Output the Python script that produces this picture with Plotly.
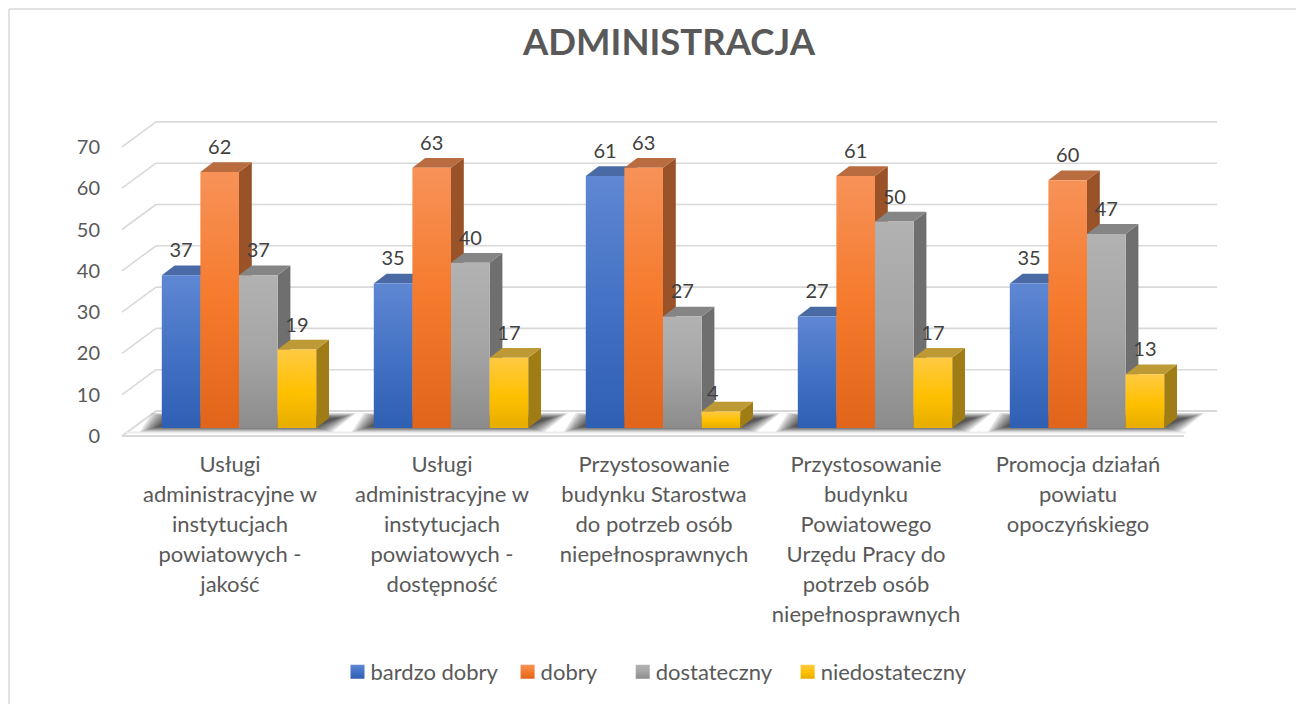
import plotly.graph_objects as go

# ---------- data ----------
categories = [
    ["Usługi", "administracyjne w", "instytucjach", "powiatowych -", "jakość"],
    ["Usługi", "administracyjne w", "instytucjach", "powiatowych -", "dostępność"],
    ["Przystosowanie", "budynku Starostwa", "do potrzeb osób", "niepełnosprawnych"],
    ["Przystosowanie", "budynku", "Powiatowego", "Urzędu Pracy do", "potrzeb osób", "niepełnosprawnych"],
    ["Promocja działań", "powiatu", "opoczyńskiego"],
]
bardzo_dobry = [37, 35, 61, 27, 35]
dobry = [62, 63, 63, 61, 60]
dostateczny = [37, 40, 27, 50, 47]
niedostateczny = [19, 17, 4, 17, 13]
series_names = ["bardzo dobry", "dobry", "dostateczny", "niedostateczny"]
series_values = [bardzo_dobry, dobry, dostateczny, niedostateczny]
y_ticks = [0, 10, 20, 30, 40, 50, 60, 70]
title_text = "ADMINISTRACJA"

# ---------- style ----------
top_faces = ["#4a6aa6", "#b96c40", "#858585", "#bd9a35"]
side_faces = ["#3a5a9a", "#9a5228", "#6f6f6f", "#a07c14"]
gradients = [
    [("0%", "#5f87d3"), ("50%", "#4472c4"), ("100%", "#2f5fb3")],
    [("0%", "#f79258"), ("50%", "#f57a2c"), ("100%", "#e0651a")],
    [("0%", "#b2b2b2"), ("50%", "#a5a5a5"), ("100%", "#8c8c8c")],
    [("0%", "#ffca42"), ("55%", "#ffc000"), ("100%", "#e6ad00")],
]
FONT = "Lato, Carlito, Calibri, sans-serif"
GREY = "#595959"
GRID = "#d9d9d9"
W, H = 1296, 704
legend_nudge = [-12, -15, -2, 1]

# pixel scale of the axes
PX_X = 212.0          # pixels per category
PX_Y = 4.13           # pixels per value unit
X0_PX = 239.0         # centre of first group
Y0_PX = 428.0         # base of the bars
PLOT_L, PLOT_R, PLOT_T, PLOT_B = 106, 1240, 100, 448

def xd(px):
    return (px - X0_PX) / PX_X

def yd(py):
    return (Y0_PX - py) / PX_Y

bar_w_px = 38.6
bar_w = bar_w_px / PX_X
n_series = len(series_values)
dx, dy = 12.8 / PX_X, 9.8 / PX_Y

shapes = []
def poly(pts, fill, line=None, width=0):
    d = "M" + " L".join(f"{x:.5f},{y:.5f}" for x, y in pts) + " Z"
    shapes.append(dict(type="path", path=d, xref="x", yref="y", layer="below",
                       fillcolor=fill, line=dict(width=width, color=line or "rgba(0,0,0,0)")))

def line(x0, y0, x1, y1, color=GRID, width=1.6):
    shapes.append(dict(type="line", xref="x", yref="y", layer="below",
                       x0=x0, y0=y0, x1=x1, y1=y1, line=dict(color=color, width=width)))

# walls: gridlines at the back and the slanted side wall
front_l, front_r, back_l, back_r = xd(122), xd(1184), xd(156), xd(1217)
front_zero, back_zero = yd(436), yd(411)
for t in y_ticks[1:]:
    line(front_l, front_zero + t, back_l, back_zero + t)
    line(back_l, back_zero + t, back_r, back_zero + t)

# floor plate: open on the right
line(front_l, front_zero, front_r, front_zero, GRID, 2)
line(back_l, back_zero, back_r, back_zero, GRID, 2)
line(front_l, front_zero, back_l, back_zero, GRID, 2)
line(xd(126), yd(432.5), xd(1186), yd(432.5), "#ececec", 2)

# soft shadow below each group
group_w = bar_w * n_series
for i in range(len(categories)):
    left, right = i - group_w / 2, i + group_w / 2
    for k in range(9):
        inset = k * 2.2
        poly([(left - (22 - inset) / PX_X, yd(432 - inset * 0.3)),
              (right + (16 - inset) / PX_X, yd(432 - inset * 0.3)),
              (right + (40 - inset) / PX_X, yd(413 + inset * 0.3)),
              (left - (10 - inset) / PX_X, yd(413 + inset * 0.3))],
             "rgba(0,0,0,0.11)")

# 3D faces of the bars, painted left to right
for i in range(len(categories)):
    for j, vals in enumerate(series_values):
        v = vals[i]
        x0 = i - group_w / 2 + j * bar_w
        x1 = x0 + bar_w
        poly([(x1, 0), (x1 + dx, dy), (x1 + dx, v + dy), (x1, v)], side_faces[j])
        poly([(x0, v), (x1, v), (x1 + dx, v + dy), (x0 + dx, v + dy)], top_faces[j])

fig = go.Figure()
for j, (name, vals) in enumerate(zip(series_names, series_values)):
    fig.add_trace(go.Bar(name=name, x=list(range(len(categories))), y=vals,
                         marker=dict(color=gradients[j][1][1], line=dict(width=0)),
                         hoverinfo="skip"))

# data labels above each bar
label_shift = {(2, 3): (-8, 7)}   # the small bar's label sits nearer its neighbour
for j, vals in enumerate(series_values):
    xs, ys = [], []
    for i, v in enumerate(vals):
        sx, sy = label_shift.get((i, j), (0, 0))
        xs.append(i - group_w / 2 + (j + 0.5) * bar_w + sx / PX_X)
        ys.append(v + (23 - sy) / PX_Y)
    fig.add_trace(go.Scatter(x=xs, y=ys, mode="text", text=[str(v) for v in vals],
                             textposition="middle center", showlegend=False, hoverinfo="skip",
                             textfont=dict(family=FONT, size=20, color="#404040")))

for nx0, ny0, nx1, ny1 in [(9, 9, W, 9), (9, 9, 9, H)]:
    shapes.append(dict(type="line", xref="paper", yref="paper", x0=nx0 / W, x1=nx1 / W,
                       y0=1 - ny0 / H, y1=1 - ny1 / H, line=dict(color=GRID, width=1.5)))

tick_text = ["<br>".join(f'<span style="font-size:22px">{ln}</span>' for ln in cat) for cat in categories]

fig.update_layout(
    width=W, height=H, margin=dict(l=0, r=0, t=0, b=0),
    paper_bgcolor="white", plot_bgcolor="rgba(0,0,0,0)",
    barmode="group", bargap=1 - group_w, bargroupgap=0,
    shapes=shapes,
    title=dict(text=f"<b>{title_text}</b>", x=669 / W, xanchor="center", y=1 - 42 / H, yanchor="middle",
               font=dict(family=FONT, size=36.5, color=GREY)),
    xaxis=dict(domain=[PLOT_L / W, PLOT_R / W], range=[xd(PLOT_L), xd(PLOT_R)],
               tickmode="array", tickvals=[i + xd(230) for i in range(len(categories))], ticktext=tick_text,
               tickangle=0, showgrid=False, zeroline=False, showline=False, ticks="",
               tickfont=dict(family=FONT, size=23, color=GREY), fixedrange=True),
    yaxis=dict(domain=[1 - PLOT_B / H, 1 - PLOT_T / H], range=[yd(PLOT_B), yd(PLOT_T)],
               tickmode="array", tickvals=[t + front_zero for t in y_ticks], ticktext=[str(t) for t in y_ticks],
               showgrid=False, zeroline=False, showline=False, ticks="", ticklabelstandoff=5,
               tickfont=dict(family=FONT, size=20, color=GREY), fixedrange=True),
    legend=dict(orientation="h", x=664 / W, xanchor="center", y=1 - 672 / H, yanchor="middle",
                font=dict(family=FONT, size=22, color=GREY), bgcolor="rgba(0,0,0,0)"),
    showlegend=True,
)

stops_js = str([[list(s) for s in g] for g in gradients])
post = """
document.body.style.margin='0';document.body.style.overflow='hidden';
var gd=document.getElementById('{plot_id}');
var svg=gd.querySelector('svg.main-svg');
var NS='http://www.w3.org/2000/svg';
var defs=document.createElementNS(NS,'defs');svg.insertBefore(defs,svg.firstChild);
var grads=%s;
var nudge=%s;
grads.forEach(function(g,j){
  var lg=document.createElementNS(NS,'linearGradient');
  lg.setAttribute('id','barg'+j);lg.setAttribute('x1','0');lg.setAttribute('y1','0');lg.setAttribute('x2','0');lg.setAttribute('y2','1');
  g.forEach(function(s){var st=document.createElementNS(NS,'stop');st.setAttribute('offset',s[0]);st.setAttribute('stop-color',s[1]);lg.appendChild(st);});
  defs.appendChild(lg);
});
gd.querySelectorAll('.barlayer .trace.bars').forEach(function(t,j){
  t.querySelectorAll('path').forEach(function(p){p.style.fill='url(#barg'+j+')';});
});
gd.querySelectorAll('.legend .traces').forEach(function(t,j){
  var p=t.querySelector('.legendpoints path');
  if(p){p.style.fill='url(#barg'+j+')';p.style.stroke='none';p.setAttribute('d','M7,7H-7V-7H7Z');}
  var tx=t.querySelector('text.legendtext');
  if(tx){tx.setAttribute('x',parseFloat(tx.getAttribute('x'))-7);}
  t.setAttribute('transform',(t.getAttribute('transform')||'')+' translate('+nudge[j]+',0)');
});
""" % (stops_js, str(legend_nudge))

fig.write_html("out.html", post_script=post, config=dict(displayModeBar=False))
